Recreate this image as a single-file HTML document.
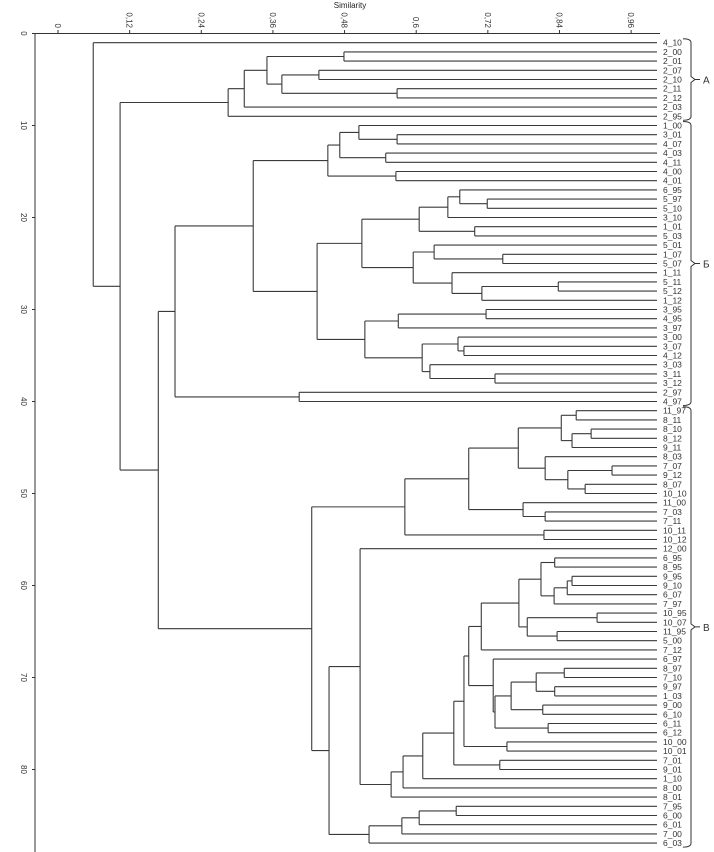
<!DOCTYPE html>
<html><head><meta charset="utf-8"><style>
html,body{margin:0;padding:0;background:#fff;}
svg{display:block;font-family:"Liberation Sans",sans-serif;}
</style></head><body>
<svg id="chart" width="714" height="852" viewBox="0 0 714 852" xmlns="http://www.w3.org/2000/svg">
<text x="350" y="8" font-size="8" fill="#222" text-anchor="middle">Similarity</text>
<g id="axes"></g>
<g id="tree"></g>
<g id="labels"></g>
<g id="groups"></g>
</svg>
<script>
const xTicks = [0, 0.12, 0.24, 0.36, 0.48, 0.6, 0.72, 0.84, 0.96];
const xTickLabels = ["0", "0,12", "0,24", "0,36", "0,48", "0,6", "0,72", "0,84", "0,96"];
const yTicks = [0, 10, 20, 30, 40, 50, 60, 70, 80];
const A = [0.285, [0.312, [0.350, [0.479,'2_00','2_01'], [0.375,[0.437,'2_07','2_10'],[0.568,'2_11','2_12']]], '2_03'], '2_95'];
const Btop = [0.452, [0.472, [0.504,'1_00',[0.568,'3_01','4_07']], [0.549,'4_03','4_11']], [0.566,'4_00','4_01']];
const Bup = [0.509, [0.605, [0.653,[0.673,'6_95',[0.719,'5_97','5_10']],'3_10'], [0.698,'1_01','5_03']], [0.595, [0.630,'5_01',[0.745,'1_07','5_07']], [0.660,'1_11',[0.710,[0.838,'5_11','5_12'],'1_12']]]];
const Blow = [0.514, [0.570,[0.717,'3_95','4_95'],'3_97'], [0.610,[0.670,'3_00',[0.680,'3_07','4_12']],[0.623,'3_03',[0.732,'3_11','3_12']]]];
const B = [0.196, [0.327, Btop, [0.434, Bup, Blow]], [0.404,'2_97','4_97']];
const C1 = [0.581, [0.688, [0.771, [0.843,[0.868,'11_97','8_11'],[0.861,[0.893,'8_10','8_12'],'9_11']], [0.816,'8_03',[0.854,[0.928,'7_07','9_12'],[0.883,'8_07','10_10']]]], [0.779,'11_00',[0.816,'7_03','7_11']]], [0.814,'10_11','10_12']];
const Et1 = [0.709, [0.772, [0.809,[0.832,'6_95','8_95'],[0.831,[0.853,[0.861,'9_95','9_10'],'6_07'],'7_97']], [0.786,[0.903,'10_95','10_07'],[0.836,'11_95','5_00']]], '7_12'];
const Et2 = [0.729,'6_97',[0.732,[0.759,[0.801,[0.848,'8_97','7_10'],[0.832,'9_97','1_03']],[0.812,'9_00','6_10']],[0.821,'6_11','6_12']]];
const E = [0.558, [0.578, [0.611, [0.663, [0.680, [0.688, Et1, Et2], [0.752,'10_00','10_01']], [0.740,'7_01','9_01']], '1_10'], '8_00'], '8_01'];
const G = [0.521, [0.576,[0.605,[0.667,'7_95','6_00'],'6_01'],'7_00'],'6_03'];
const C = [0.425, C1, [0.454, [0.506, '12_00', E], G]];
const treeData = [0.059, '4_10', [0.104, A, [0.168, B, C]]];
const groupNames = ["A", "Б", "В"];
const groupRanges = [[0, 8], [9, 39], [40, 87]];

const NS = "http://www.w3.org/2000/svg";
const xS = s => 58 + 597 * s;
const yL = i => 42.7 + 9.2 * i;
const LEAF_X = 657;
function mk(tag, attrs, parent){const e=document.createElementNS(NS,tag);for(const k in attrs)e.setAttribute(k,attrs[k]);parent.appendChild(e);return e;}

const axes = document.getElementById('axes');
let ax = mk('line',{x1:35,y1:33.5,x2:660,y2:33.5,stroke:'#333','stroke-width':1},axes);


let ay = mk('line',{x1:35,y1:33.5,x2:35,y2:852,stroke:'#333','stroke-width':1},axes);


xTicks.forEach((v,i)=>{
  const x = xS(v);
  const t = mk('line',{x1:x,y1:30,x2:x,y2:33.5,stroke:'#333'},axes);
  
  
  const l = mk('text',{x:0,y:0,'font-size':8,fill:'#333','text-anchor':'end',transform:`translate(${x-3},28) rotate(90)`},axes);
  l.textContent = xTickLabels[i];
  
  
});
yTicks.forEach(v=>{
  const y = 33.5 + 9.2 * v;
  const t = mk('line',{x1:32,y1:y,x2:35,y2:y,stroke:'#333'},axes);
  
  
  const l = mk('text',{x:0,y:0,'font-size':8,fill:'#333','text-anchor':'middle',transform:`translate(21,${y}) rotate(90)`},axes);
  l.textContent = String(v);
  
  
});

const tree = document.getElementById('tree');
const labels = document.getElementById('labels');
let leafIdx = 0;
function layout(n){
  if (typeof n === 'string'){
    const i = leafIdx++;
    const y = yL(i);
    const t = mk('text',{x:663,y:y+3,'font-size':8.5,fill:'#333'},labels);
    t.textContent = n;
    
    
    return {x:LEAF_X, y:y};
  }
  const a = layout(n[1]), b = layout(n[2]);
  const x = xS(n[0]);
  const col = '#3a3a3a';
  const h1 = mk('line',{x1:x,y1:a.y,x2:a.x,y2:a.y,stroke:col,'stroke-width':1.1},tree);
  
  
  const h2 = mk('line',{x1:x,y1:b.y,x2:b.x,y2:b.y,stroke:col,'stroke-width':1.1},tree);
  
  
  const v = mk('line',{x1:x,y1:a.y,x2:x,y2:b.y,stroke:col,'stroke-width':1.1},tree);
  
  
  return {x:x, y:(a.y+b.y)/2};
}
layout(treeData);

const groups = document.getElementById('groups');
groupRanges.forEach((r,i)=>{
  const y1 = yL(r[0]) - 4, y2 = yL(r[1]) + 4, ym = (y1+y2)/2;
  const p = mk('path',{d:`M683 ${y1} Q691 ${y1} 691 ${y1+4} L691 ${ym-3} L695 ${ym} L691 ${ym+3} L691 ${y2-4} Q691 ${y2} 683 ${y2} M695 ${ym} L700 ${ym}`,fill:'none',stroke:'#333','stroke-width':1},groups);
  
  
  const t = mk('text',{x:703,y:ym+4,'font-size':10,fill:'#333'},groups);
  t.textContent = groupNames[i];
  
  
});
</script>
</body></html>
